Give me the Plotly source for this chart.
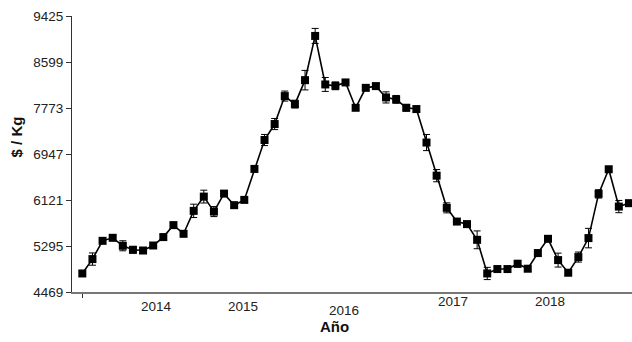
import plotly.graph_objects as go

# Monthly average price ($/Kg) with its standard error
month_index = list(range(1, 56))
price = [4802, 5060, 5388, 5442, 5299, 5227, 5214, 5304, 5455, 5670,
         5514, 5926, 6182, 5913, 6236, 6028, 6123, 6679, 7198, 7485,
         7987, 7843, 8273, 9067, 8196, 8171, 8232, 7777, 8135, 8166,
         7963, 7928, 7777, 7754, 7153, 6558, 5980, 5734, 5688, 5406,
         4802, 4881, 4881, 4976, 4887, 5168, 5424, 5042, 4815, 5096,
         5437, 6231, 6673, 6003, 6064]
price_err = [50, 110, 50, 50, 90, 60, 50, 50, 50, 50,
             50, 120, 115, 90, 50, 50, 50, 50, 100, 100,
             90, 70, 175, 135, 125, 70, 50, 50, 50, 50,
             100, 70, 60, 50, 145, 110, 90, 50, 50, 160,
             110, 50, 50, 60, 50, 50, 50, 125, 50, 90,
             175, 75, 50, 110, 50]

year_labels = ["2014", "2015", "2016", "2017", "2018"]
# horizontal position (in month index units) and vertical offset of each year label
year_label_x = [8.31, 16.87, 26.82, 37.6, 47.2]
year_label_shift = [-14.5, -14, -18.7, -9.5, -9.5]

y_ticks = [4469, 5295, 6121, 6947, 7773, 8599, 9425]

base_font = "Liberation Sans, Arial, sans-serif"

fig = go.Figure()
fig.add_trace(go.Scatter(
    x=month_index,
    y=price,
    mode="lines+markers",
    line=dict(color="black", width=1.6),
    marker=dict(symbol="square", size=8, color="black"),
    error_y=dict(type="data", array=price_err, visible=True,
                 color="black", thickness=1, width=3.5),
    cliponaxis=False,
    showlegend=False,
))

for label, xpos, shift in zip(year_labels, year_label_x, year_label_shift):
    fig.add_annotation(
        x=xpos, xref="x", y=0, yref="paper",
        text=label, showarrow=False,
        xanchor="center", yanchor="middle", yshift=shift,
        font=dict(family=base_font, size=13.5, color="#222"),
    )

# axis titles
fig.add_annotation(
    x=0.468, xref="paper", y=0, yref="paper",
    text="<b>Año</b>", showarrow=False,
    xanchor="center", yanchor="middle", yshift=-34,
    font=dict(family=base_font, size=15, color="#111"),
)
fig.add_annotation(
    x=-0.099, xref="paper", y=0.562, yref="paper",
    text="<b>$ / Kg</b>", showarrow=False, textangle=-90,
    xanchor="center", yanchor="middle",
    font=dict(family=base_font, size=15, color="#111"),
)

fig.update_layout(
    width=632, height=342,
    margin=dict(l=72, r=0, t=16, b=50),
    paper_bgcolor="white",
    plot_bgcolor="white",
    font=dict(family=base_font, size=13.5, color="#222"),
    xaxis=dict(
        range=[-0.02, 55.3],
        tickvals=[1], ticktext=[""],
        ticks="outside", ticklen=4, tickcolor="#333", tickwidth=1,
        showgrid=False, zeroline=False,
        showline=True, linecolor="#777", linewidth=1.5,
    ),
    yaxis=dict(
        range=[4469, 9425],
        tickvals=y_ticks,
        ticktext=[str(v) for v in y_ticks],
        ticks="outside", ticklen=5, tickcolor="#333", tickwidth=1,
        showgrid=False, zeroline=False,
        showline=True, linecolor="#333", linewidth=1,
    ),
)

fig.write_html("out.html")
